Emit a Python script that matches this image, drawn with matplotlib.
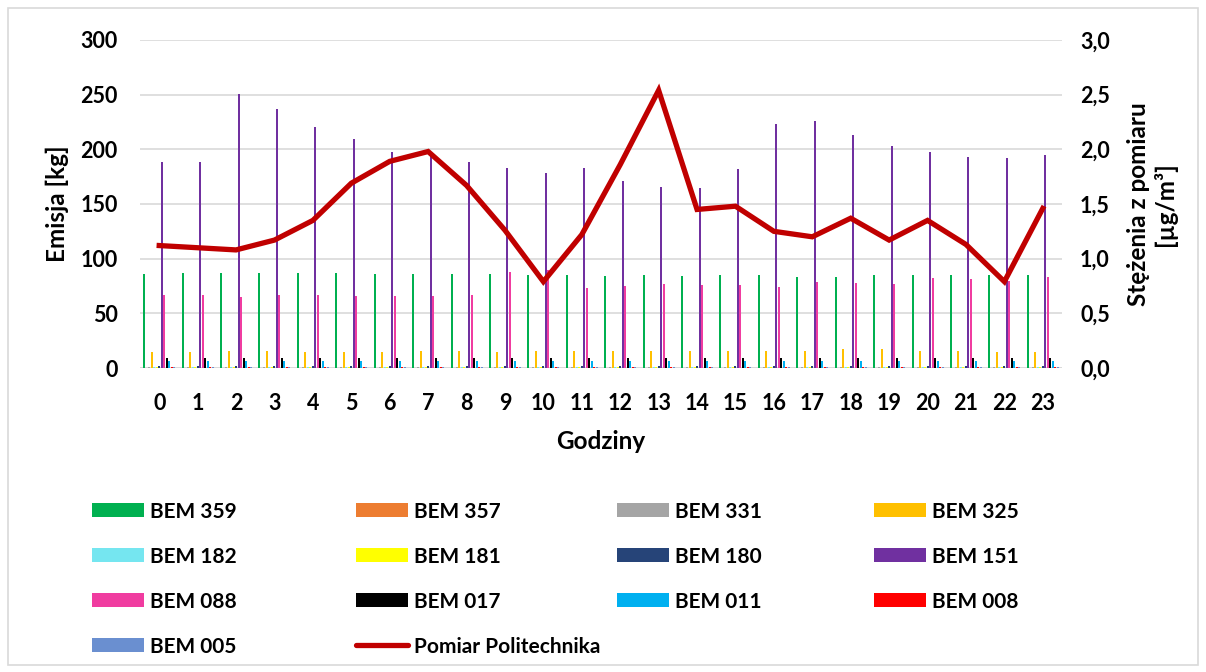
import matplotlib
matplotlib.use("Agg")
import matplotlib.pyplot as plt
from matplotlib.patches import Rectangle
from matplotlib.lines import Line2D
from matplotlib import font_manager
import numpy as np


def pick_bold_family(cands):
    for fam in cands:
        for f in font_manager.fontManager.ttflist:
            w = f.weight
            if f.name == fam and (w in ('bold', 'heavy', 'black') or (isinstance(w, int) and w >= 700)):
                return fam
    return 'DejaVu Sans'


FAM = pick_bold_family(['Lato', 'Open Sans', 'Noto Sans', 'Roboto', 'Liberation Sans'])
plt.rcParams['font.family'] = [FAM, 'DejaVu Sans']
plt.rcParams['font.weight'] = 'bold'

hours = list(range(24))
hour_labels = [str(h) for h in hours]

series_names = ["BEM 359", "BEM 357", "BEM 331", "BEM 325", "BEM 182", "BEM 181",
                "BEM 180", "BEM 151", "BEM 088", "BEM 017", "BEM 011", "BEM 008", "BEM 005"]
series_colors = ["#00B050", "#ED7D31", "#A5A5A5", "#FFC000", "#75E6F0", "#FFFF00",
                 "#264478", "#7030A0", "#F03CA0", "#000000", "#00B0F0", "#FF0000", "#6A8FD0"]

bem359 = [86, 87, 87, 87, 87, 87, 86, 86, 86, 86, 85, 85, 84, 85, 84, 85, 85, 83, 83, 85, 85, 85, 85, 85]
bem357 = [0.3] * 24
bem331 = [0.6] * 24
bem325 = [15, 15, 16, 16, 15, 15, 15, 16, 16, 15, 16, 16, 16, 16, 16, 16, 16, 16, 17, 17, 16, 16, 15, 15]
bem182 = [1.0] * 24
bem181 = [0.6] * 24
bem180 = [1.5] * 24
bem151 = [188, 188, 251, 237, 220, 209, 198, 196, 188, 183, 178, 183, 171, 166, 165, 182, 223, 226, 213, 203, 198, 193, 192, 195]
bem088 = [67, 67, 65, 67, 67, 66, 66, 66, 67, 88, 90, 73, 75, 77, 76, 76, 74, 79, 78, 77, 82, 81, 80, 83]
bem017 = [9] * 24
bem011 = [6] * 24
bem008 = [0.5] * 24
bem005 = [0.8] * 24
series_values = [bem359, bem357, bem331, bem325, bem182, bem181, bem180,
                 bem151, bem088, bem017, bem011, bem008, bem005]

pomiar = [1.12, 1.10, 1.08, 1.17, 1.35, 1.69, 1.89, 1.98, 1.67, 1.26, 0.79, 1.22,
          1.86, 2.54, 1.45, 1.48, 1.25, 1.20, 1.37, 1.17, 1.35, 1.13, 0.79, 1.46]
line_label = "Pomiar Politechnika"
line_color = "#C00000"

TICK_FS = 15.5
TITLE_FS = 17.5
LEG_FS = 15

W, H = 1206, 672
fig = plt.figure(figsize=(W / 100, H / 100), dpi=100)
fig.patches.append(Rectangle((0.007, 0.01), 0.986, 0.978, transform=fig.transFigure,
                             fill=False, edgecolor="#D9D9D9", linewidth=1.2))
ax = fig.add_axes([140 / W, 1 - 368 / H, 922 / W, 328 / H])
ax2 = ax.twinx()

x = np.arange(len(hours))
n = len(series_names)
step = 0.065
width = 0.052
for i, (vals, col) in enumerate(zip(series_values, series_colors)):
    ax.bar(x + (i - (n - 1) / 2) * step, vals, width=width, color=col, zorder=3,
           linewidth=0, antialiased=False)

ax2.plot(x, pomiar, color=line_color, linewidth=3.8, zorder=5, solid_joinstyle='miter')

ax.set_xlim(-0.5, 23.5)
ax.set_ylim(0, 300)
ax.set_yticks(range(0, 301, 50))
ax2.set_ylim(0, 3.0)
ticks2 = np.arange(0, 3.01, 0.5)
ax2.set_yticks(ticks2)
ax2.set_yticklabels([f"{v:.1f}".replace('.', ',') for v in ticks2])
ax.set_xticks(x)
ax.set_xticklabels(hour_labels)

for a in (ax, ax2):
    for s in a.spines.values():
        s.set_visible(False)
    a.tick_params(length=0, labelsize=TICK_FS)
ax.tick_params(axis='y', pad=16)
ax.tick_params(axis='x', pad=18)
ax2.tick_params(axis='y', pad=13)
for lab in ax.get_xticklabels() + ax.get_yticklabels() + ax2.get_yticklabels():
    lab.set_fontweight('bold')

ax.grid(axis='y', color="#D9D9D9", linewidth=1.2, zorder=0)
ax.set_axisbelow(True)
ax.axhline(0, color="#D9D9D9", linewidth=1.2, zorder=1)

ax.set_ylabel("Emisja [kg]", fontsize=TITLE_FS, fontweight='bold', va='center', ha='center')
ax.yaxis.set_label_coords((57 - 140) / 922, 0.5)
ax.set_xlabel("Godziny", fontsize=TITLE_FS, fontweight='bold', va='center', ha='center')
ax.xaxis.set_label_coords(0.5, (368 - 441) / 328)
ax2.set_ylabel("Stężenia z pomiaru\n[µg/m³]", fontsize=TITLE_FS, fontweight='bold',
               rotation=90, va='center', ha='center', linespacing=1.12)
ax2.yaxis.set_label_coords((1152 - 140) / 922, 0.5)

# legend (row-major, 4 columns)
labels_all = series_names + [line_label]
colors_all = series_colors + [line_color]
col_x = [92, 356, 617, 874]
row_y = [510, 555, 600, 645]
patch_w = 52
patch_h = 14
for k, (lab, col) in enumerate(zip(labels_all, colors_all)):
    r, c = divmod(k, 4)
    px = col_x[c]
    py = row_y[r]
    if lab == line_label:
        fig.lines.append(Line2D([px / W, (px + patch_w) / W], [1 - py / H, 1 - py / H],
                                transform=fig.transFigure, color=col, linewidth=3.8,
                                solid_capstyle='round'))
    else:
        fig.patches.append(Rectangle((px / W, 1 - (py + patch_h / 2) / H), patch_w / W, patch_h / H,
                                     transform=fig.transFigure, facecolor=col, edgecolor='none'))
    fig.text((px + patch_w + 6) / W, 1 - py / H, lab, fontsize=LEG_FS, fontweight='bold',
             va='center_baseline', ha='left')

fig.savefig("out.png", dpi=100)
